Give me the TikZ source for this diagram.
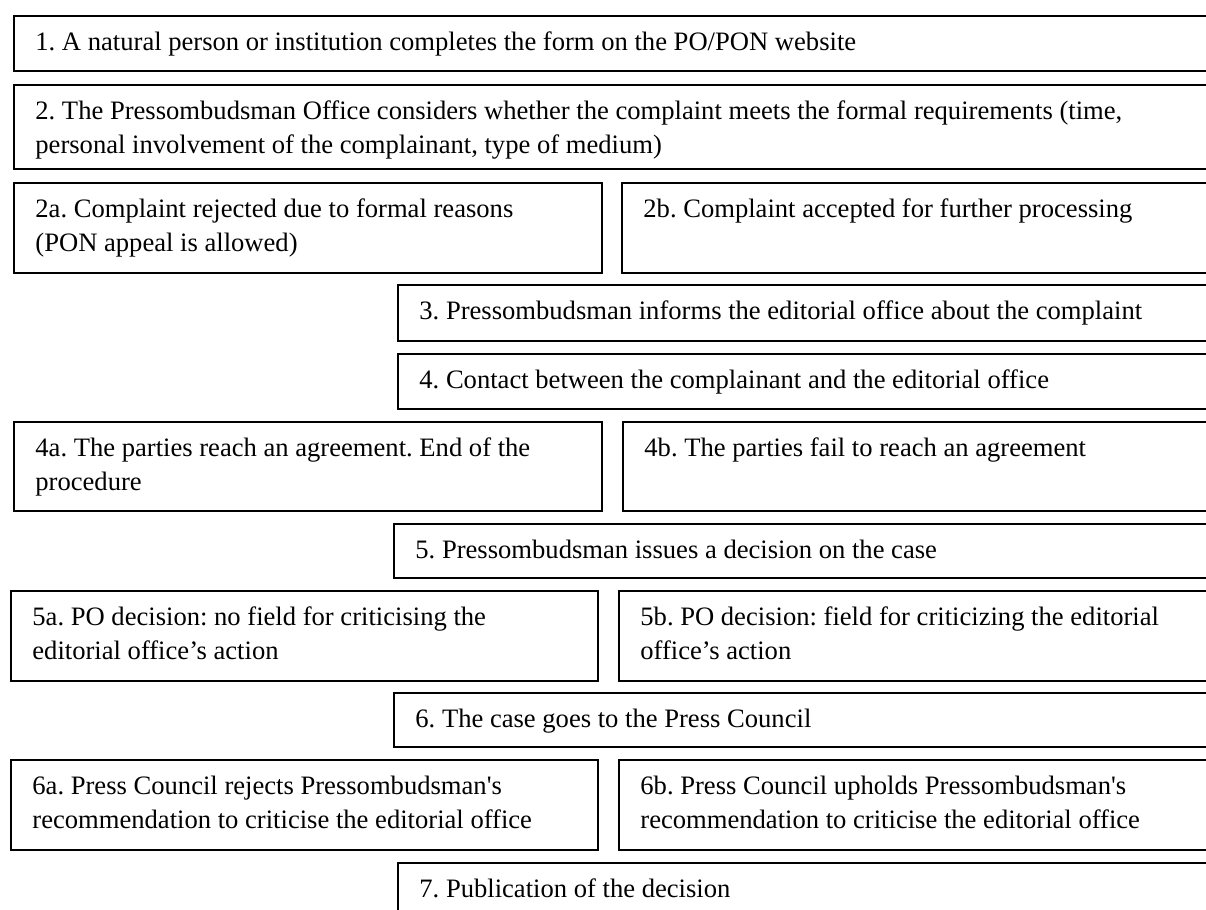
\documentclass[tikz,border=0pt]{standalone}
\usepackage{fontspec}
\setmainfont{Liberation Serif}[Ligatures=TeXOff]
\begin{document}
\frenchspacing
\begin{tikzpicture}[x=0.5pt,y=-0.5pt,
  bx/.style={draw=black, line width=1pt, anchor=north west, inner sep=0pt},
  tx/.style={anchor=base west, inner sep=0pt, align=left,
    font=\fontsize{13.3}{17.3}\selectfont}]
\useasboundingbox (0,0) rectangle (1206,910);
\clip (0,0) rectangle (1206,910);
% boxes
\node[bx, minimum width=608.5pt, minimum height=27.5pt] (b1) at (13,15) {};
\node[bx, minimum width=608.5pt, minimum height=42pt] (b2) at (13,84) {};
\node[bx, minimum width=294pt, minimum height=45pt] (b2a) at (13,182) {};
\node[bx, minimum width=304.5pt, minimum height=45pt] (b2b) at (621,182) {};
\node[bx, minimum width=416.5pt, minimum height=28pt] (b3) at (397,284) {};
\node[bx, minimum width=416.5pt, minimum height=27.5pt] (b4) at (397,353) {};
\node[bx, minimum width=294pt, minimum height=44.5pt] (b4a) at (13,421) {};
\node[bx, minimum width=304pt, minimum height=44.5pt] (b4b) at (622,421) {};
\node[bx, minimum width=418.5pt, minimum height=27pt] (b5) at (393,523) {};
\node[bx, minimum width=293.5pt, minimum height=45pt] (b5a) at (10,590) {};
\node[bx, minimum width=306pt, minimum height=45pt] (b5b) at (618,590) {};
\node[bx, minimum width=418.5pt, minimum height=27pt] (b6) at (393,692) {};
\node[bx, minimum width=293.5pt, minimum height=45pt] (b6a) at (10,759) {};
\node[bx, minimum width=306pt, minimum height=45pt] (b6b) at (618,759) {};
\node[bx, minimum width=416.5pt, minimum height=40pt] (b7) at (397,862) {};
% texts (one line: baseline 17.5pt below top; two lines: last baseline 34.8pt below top)
\node[tx] (t1) at ([shift={(11pt,-17.5pt)}]b1.north west) {1. A natural person or institution completes the form on the PO/PON website};
\node[tx] (t2) at ([shift={(11pt,-34.8pt)}]b2.north west) {2. The Pressombudsman Office considers whether the complaint meets the formal requirements (time,\\personal involvement of the complainant, type of medium)};
\node[tx] (t2a) at ([shift={(11pt,-34.8pt)}]b2a.north west) {2a. Complaint rejected due to formal reasons\\(PON appeal is allowed)};
\node[tx] (t2b) at ([shift={(11pt,-17.5pt)}]b2b.north west) {2b. Complaint accepted for further processing};
\node[tx] (t3) at ([shift={(11pt,-17.5pt)}]b3.north west) {3. Pressombudsman informs the editorial office about the complaint};
\node[tx] (t4) at ([shift={(11pt,-17.5pt)}]b4.north west) {4. Contact between the complainant and the editorial office};
\node[tx] (t4a) at ([shift={(11pt,-34.8pt)}]b4a.north west) {4a. The parties reach an agreement. End of the\\procedure};
\node[tx] (t4b) at ([shift={(11pt,-17.5pt)}]b4b.north west) {4b. The parties fail to reach an agreement};
\node[tx] (t5) at ([shift={(11pt,-17.5pt)}]b5.north west) {5. Pressombudsman issues a decision on the case};
\node[tx] (t5a) at ([shift={(11pt,-34.8pt)}]b5a.north west) {5a. PO decision: no field for criticising the\\editorial office’s action};
\node[tx] (t5b) at ([shift={(11pt,-34.8pt)}]b5b.north west) {5b. PO decision: field for criticizing the editorial\\office’s action};
\node[tx] (t6) at ([shift={(11pt,-17.5pt)}]b6.north west) {6. The case goes to the Press Council};
\node[tx] (t6a) at ([shift={(11pt,-34.8pt)}]b6a.north west) {6a. Press Council rejects Pressombudsman's\\recommendation to criticise the editorial office};
\node[tx] (t6b) at ([shift={(11pt,-34.8pt)}]b6b.north west) {6b. Press Council upholds Pressombudsman's\\recommendation to criticise the editorial office};
\node[tx] (t7) at ([shift={(11pt,-17.5pt)}]b7.north west) {7. Publication of the decision};
\end{tikzpicture}
\end{document}
